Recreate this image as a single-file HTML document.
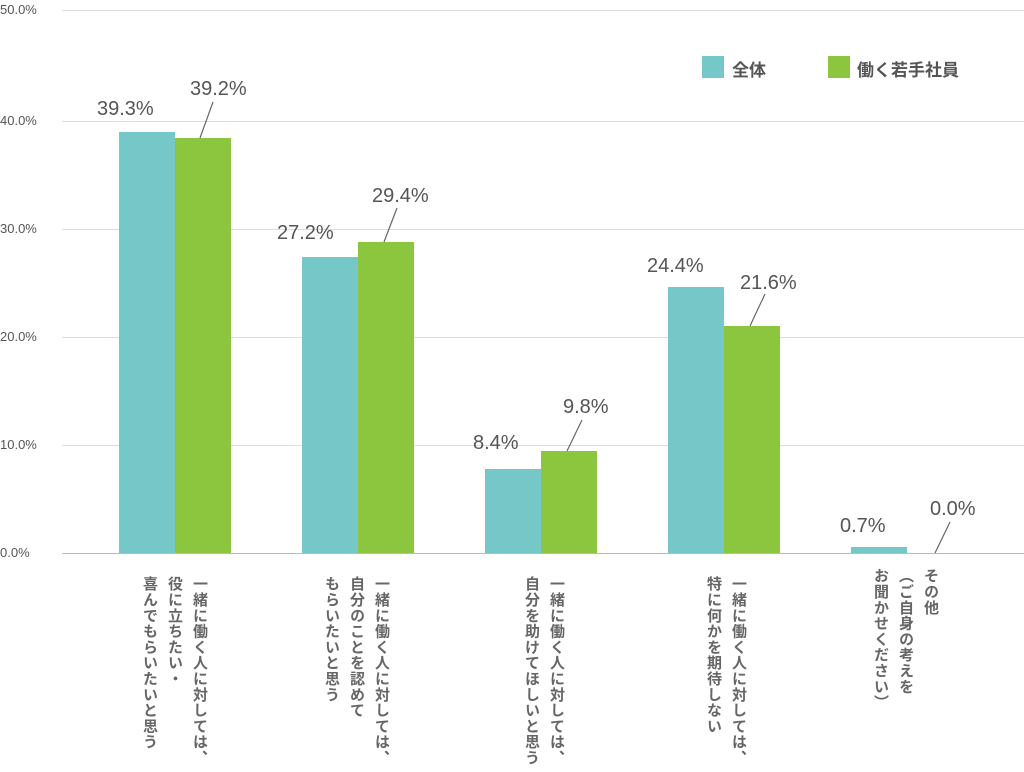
<!DOCTYPE html>
<html><head><meta charset="utf-8"><style>
html,body{margin:0;padding:0;background:#fff;width:1024px;height:772px;overflow:hidden}
body{position:relative;font-family:"Liberation Sans","Noto Sans CJK JP",sans-serif;color:#555}
.g{position:absolute;left:62px;width:962px;height:1px;background:#ddd}
.yl{position:absolute;left:0;width:54px;font-size:13px;color:#555}
.b{position:absolute;width:56px}
.t{background:#76c8c8}.gr{background:#8cc63f}
.v{position:absolute;font-size:20px;color:#555}
.c{position:absolute;writing-mode:vertical-rl;font-size:15px;font-weight:bold;color:#666;line-height:25px;letter-spacing:0.8px;font-family:"Liberation Sans","Noto Sans CJK JP",sans-serif}
</style></head><body>
<div class="g" style="top:10px"></div><div class="g" style="top:121px"></div><div class="g" style="top:229px"></div><div class="g" style="top:337px"></div><div class="g" style="top:445px"></div>
<div class="g" style="top:553px;background:#bbb"></div>
<div class="yl" style="top:2px">50.0%</div><div class="yl" style="top:113px">40.0%</div><div class="yl" style="top:221px">30.0%</div><div class="yl" style="top:329px">20.0%</div><div class="yl" style="top:437px">10.0%</div><div class="yl" style="top:545px">0.0%</div>

<div class="b t" style="left:119px;top:132px;height:421px"></div><div class="b gr" style="left:175px;top:138px;height:415px"></div>
<div class="b t" style="left:302px;top:257px;height:296px"></div><div class="b gr" style="left:358px;top:242px;height:311px"></div>
<div class="b t" style="left:485px;top:469px;height:84px"></div><div class="b gr" style="left:541px;top:451px;height:102px"></div>
<div class="b t" style="left:668px;top:287px;height:266px"></div><div class="b gr" style="left:724px;top:326px;height:227px"></div>
<div class="b t" style="left:851px;top:547px;height:6px"></div>

<svg width="1024" height="772" style="position:absolute;left:0;top:0" stroke="#666" stroke-width="1.2">
<line x1="200" y1="138" x2="213" y2="102"/><line x1="384" y1="242" x2="397" y2="208"/><line x1="567" y1="451" x2="582" y2="420"/><line x1="750" y1="326" x2="765" y2="294"/><line x1="935" y1="553" x2="950" y2="522"/>
</svg>
<div class="v" style="left:97px;top:98px">39.3%</div><div class="v" style="left:190px;top:78px">39.2%</div>
<div class="v" style="left:277px;top:222px">27.2%</div><div class="v" style="left:372px;top:185px">29.4%</div>
<div class="v" style="left:473px;top:432px">8.4%</div><div class="v" style="left:563px;top:396px">9.8%</div>
<div class="v" style="left:647px;top:255px">24.4%</div><div class="v" style="left:740px;top:272px">21.6%</div>
<div class="v" style="left:840px;top:515px">0.7%</div><div class="v" style="left:930px;top:498px">0.0%</div>

<div style="position:absolute;left:702px;top:56px;width:22px;height:22px;background:#76c8c8"></div>
<div style="position:absolute;left:732px;top:56px;font-size:17px;font-weight:bold;color:#555">全体</div>
<div style="position:absolute;left:828px;top:56px;width:22px;height:22px;background:#8cc63f"></div>
<div style="position:absolute;left:857px;top:56px;font-size:17px;font-weight:bold;color:#555">働く若手社員</div>

<div class="c" style="left:137px;top:576px">一緒に働く人に対しては、<br>役に立ちたい・<br>喜んでもらいたいと思う</div>
<div class="c" style="left:319px;top:576px">一緒に働く人に対しては、<br>自分のことを認めて<br>もらいたいと思う</div>
<div class="c" style="left:519px;top:576px">一緒に働く人に対しては、<br>自分を助けてほしいと思う</div>
<div class="c" style="left:701px;top:576px">一緒に働く人に対しては、<br>特に何かを期待しない</div>
<div class="c" style="left:868px;top:568px">その他<br>（ご自身の考えを<br>お聞かせください）</div>
</body></html>
